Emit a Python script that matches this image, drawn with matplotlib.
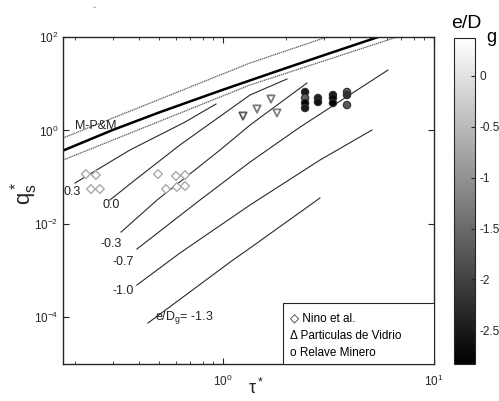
import numpy as np
import matplotlib
matplotlib.use("Agg")
import matplotlib.pyplot as plt
from matplotlib.colors import Normalize
from matplotlib.patches import Rectangle

plt.rcParams['font.family'] = ['Liberation Sans', 'DejaVu Sans']

# ---- data -------------------------------------------------------------
mpm_tau = [0.1746, 0.3, 0.5, 1.0, 2.0, 3.0, 5.44]
mpm_q = [0.37, 1.02, 2.44, 7.44, 21.8, 40.6, 100.0]

dot_up_tau = [0.1746, 1.343, 3.11]
dot_up_q = [0.688, 27.7, 100.0]
dot_lo_tau = [0.1746, 1.343, 6.68]
dot_lo_q = [0.232, 9.38, 100.0]

curve_labels = ['0.3', '0.0', '-0.3', '-0.7', '-1.0', '-1.3']
curve_tau = [
    [0.199, 0.362, 0.661, 0.927],
    [0.291, 0.383, 0.625, 1.343, 2.01],
    [0.329, 0.487, 0.968, 1.343, 2.50],
    [0.391, 0.778, 1.343, 2.32, 6.05],
    [0.391, 0.625, 1.343, 2.88, 5.08],
    [0.441, 1.115, 1.343, 2.88],
]
curve_q = [
    [0.0748, 0.380, 1.51, 3.68],
    [0.0323, 0.0867, 0.487, 5.73, 12.6],
    [0.00667, 0.0323, 0.380, 1.30, 10.35],
    [0.00289, 0.0323, 0.210, 1.18, 19.6],
    [4.90e-4, 0.00237, 0.0253, 0.232, 1.02],
    [7.52e-5, 0.00168, 0.00303, 0.0357],
]

nino_tau = [0.224, 0.250, 0.237, 0.261, 0.492, 0.599, 0.661, 0.537, 0.605, 0.661]
nino_q = [0.116, 0.111, 0.0556, 0.0556, 0.116, 0.106, 0.111, 0.0556, 0.0614, 0.0645]
nino_e = [-0.7] * 10

vid_tau = [1.244, 1.45, 1.689, 1.803]
vid_q = [2.03, 2.87, 4.70, 2.36]
vid_e = [-1.7, -1.3, -1.3, -1.2]

rel_tau = [2.45, 2.45, 2.45, 2.45, 2.82, 2.82, 3.32, 3.32, 3.32, 3.87, 3.87, 3.87]
rel_q = [6.64, 4.94, 3.86, 3.02, 4.94, 4.06, 5.73, 4.94, 3.86, 6.64, 5.73, 3.50]
rel_e = [-2.5, -1.6, -2.8, -2.5, -2.4, -2.6, -2.5, -2.7, -2.8, -1.6, -2.2, -1.7]

cbar_ticks = [0, -0.5, -1, -1.5, -2, -2.5]
e_min, e_max = -2.83, 0.37

# ---- figure -----------------------------------------------------------
fig = plt.figure(figsize=(4.99, 4.01), dpi=100)
ax = fig.add_axes([63/499, 1-364/401, (434-63)/499, (364-37)/401])
cax = fig.add_axes([454/499, 1-364/401, (475-454)/499, (364-38)/401])

cmap = plt.get_cmap('gray')
norm = Normalize(e_min, e_max)
axc = '#262626'

ax.plot(dot_up_tau, dot_up_q, ls=(0, (1, 0.6)), color='#555555', lw=0.9)
ax.plot(dot_lo_tau, dot_lo_q, ls=(0, (1, 0.6)), color='#555555', lw=0.9)
ax.plot(mpm_tau, mpm_q, color='black', lw=1.8)
for t, q in zip(curve_tau, curve_q):
    ax.plot(t, q, color='#2a2a2a', lw=0.8)

ax.scatter(nino_tau, nino_q, marker='D', s=20, facecolors='white',
           edgecolors=cmap(norm(np.array(nino_e))), linewidths=1.0, zorder=3)
ax.scatter(vid_tau, vid_q, marker='v', s=28, facecolors='white',
           edgecolors=cmap(norm(np.array(vid_e))), linewidths=1.3, zorder=3)
ax.scatter(rel_tau, rel_q, marker='o', s=28, c=rel_e, cmap=cmap, norm=norm,
           edgecolors='#303030', linewidths=0.8, zorder=3)

ax.set_xscale('log')
ax.set_yscale('log')
ax.set_xlim(0.1746, 10)
ax.set_ylim(1e-5, 1e2)
ax.set_xticks([1, 10])
ax.set_yticks([1e-4, 1e-2, 1e0, 1e2])
ax.tick_params(which='both', direction='in', top=True, right=True,
               colors=axc, labelcolor=axc, labelsize=8.5)
ax.tick_params(which='major', length=4)
ax.tick_params(which='minor', length=2)
ax.tick_params(axis='x', pad=7)
ax.yaxis.set_minor_locator(matplotlib.ticker.NullLocator())
for s in ax.spines.values():
    s.set_color(axc)
    s.set_linewidth(1.0)

fig.text(256/499, 1-388/401, r'$\mathregular{\tau^*}$', fontsize=13,
         ha='center', va='center', color=axc)
fig.text(24/499, 1-193/401, r'$\mathregular{q_s^*}$', fontsize=16,
         ha='center', va='center', rotation=90, color=axc)

# annotations
ax.text(0.198, 1.25, 'M-P&M', fontsize=9, color='#222222', va='center')
ax.text(0.176, 0.048, '0.3', fontsize=9, color='#222222', va='center')
ax.text(0.27, 0.0255, '0.0', fontsize=9, color='#222222', va='center')
ax.text(0.262, 0.0037, '-0.3', fontsize=9, color='#222222', va='center')
ax.text(0.3, 0.00155, '-0.7', fontsize=9, color='#222222', va='center')
ax.text(0.3, 0.00037, '-1.0', fontsize=9, color='#222222', va='center')
ax.text(0.475, 1.0e-4, r'e/D$_\mathregular{g}$= -1.3', fontsize=9, color='#222222', va='center')

# legend box
fx0 = (283-63)/(434-63)
fy1 = (364-303)/(364-37)
ax.add_patch(Rectangle((fx0, 0), 1-fx0, fy1, transform=ax.transAxes,
                       facecolor='white', edgecolor=axc, lw=0.8, zorder=5))
leg_texts = ['\u25C7 Nino et al.', '\u0394 Particulas de Vidrio', 'o Relave Minero']
for i, t in enumerate(leg_texts):
    ax.text(fx0 + 0.018, fy1 - 0.048 - i*0.053, t, transform=ax.transAxes,
            fontsize=8.5, color='black', va='center', zorder=6)

cb = fig.colorbar(plt.cm.ScalarMappable(norm=norm, cmap=cmap), cax=cax)
cb.set_ticks(cbar_ticks)
cb.set_ticklabels(['0', '-0.5', '-1', '-1.5', '-2', '-2.5'])
cax.tick_params(direction='in', length=3, colors=axc, labelcolor=axc, labelsize=8.5)
cb.outline.set_edgecolor(axc)
fig.text(451/499, 1-24/401, 'e/D', fontsize=14, color='black', va='center')
fig.text(486/499, 1-38/401, 'g', fontsize=13, color='black', va='center')

fig.text(95/499, 1-12/401, '\u02C7', fontsize=7, color='#5aa0d8', ha='center', va='center')

fig.savefig('out.png', dpi=100)
